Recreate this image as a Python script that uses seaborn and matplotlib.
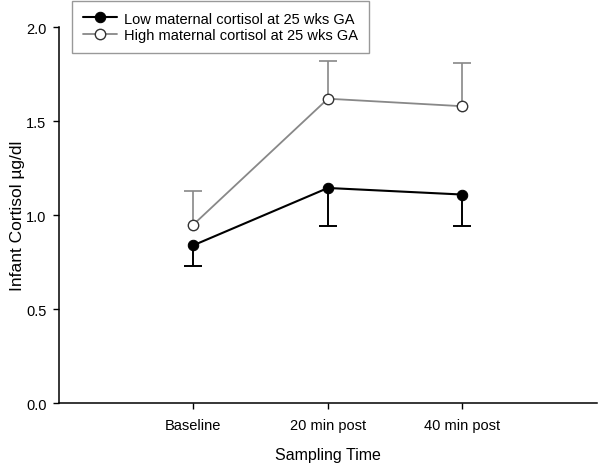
import seaborn as sns
import matplotlib.pyplot as plt
import pandas as pd

times = ["Baseline", "20 min post", "40 min post"]
low_mean = [0.84, 1.145, 1.11]
low_err = [0.11, 0.205, 0.17]
high_mean = [0.95, 1.62, 1.58]
high_err = [0.18, 0.20, 0.23]

sns.set_style("ticks")
plt.rcParams['font.family'] = ['Liberation Sans', 'DejaVu Sans']

pos = [1, 2, 3]
low = pd.DataFrame({"pos": pos, "cortisol": low_mean})
high = pd.DataFrame({"pos": pos, "cortisol": high_mean})

fig = plt.figure(figsize=(6, 4.64), dpi=100)
ax = fig.add_axes([0.098, 0.129, 0.897, 0.810])

# one-sided error bars: low goes down, high goes up
low_end = [m - e for m, e in zip(low_mean, low_err)]
high_end = [m + e for m, e in zip(high_mean, high_err)]
ax.vlines(pos, low_end, low_mean, color="black", lw=1.4, zorder=1)
ax.plot(pos, low_end, ls="none", marker="_", ms=13, mew=1.4, color="black", zorder=1)
ax.vlines(pos, high_mean, high_end, color="#888888", lw=1.2, zorder=1)
ax.plot(pos, high_end, ls="none", marker="_", ms=13, mew=1.2, color="#888888", zorder=1)

sns.lineplot(data=low, x="pos", y="cortisol", ax=ax, color="black", lw=1.5,
             marker="o", ms=7.5, mfc="black", mec="black",
             label="Low maternal cortisol at 25 wks GA", zorder=3)
sns.lineplot(data=high, x="pos", y="cortisol", ax=ax, color="#888888", lw=1.3,
             marker="o", ms=7.5, mfc="white", mec="#333333", mew=1,
             label="High maternal cortisol at 25 wks GA", zorder=3)

ax.set_xlim(0, 4)
ax.set_ylim(0, 2.0)
ax.set_xticks(pos)
ax.set_xticklabels(times)
ax.set_yticks([0, 0.5, 1.0, 1.5, 2.0])
ax.set_yticklabels(["0.0", "0.5", "1.0", "1.5", "2.0"])
ax.tick_params(labelsize=10.5, length=4.3, width=1, color="black", labelcolor="black")
ax.tick_params(axis="y", pad=4.5)
ax.tick_params(axis="x", pad=6.5)
sns.despine(ax=ax)
for s in ["left", "bottom"]:
    ax.spines[s].set_linewidth(1.1)
    ax.spines[s].set_color("black")

ax.set_xlabel("Sampling Time", fontsize=11.5, labelpad=10.5, color="black")
ax.set_ylabel("Infant Cortisol µg/dl", fontsize=12.5, labelpad=1, color="black")

leg = ax.legend(loc="upper left", bbox_to_anchor=(0.024, 1.071), borderaxespad=0,
                fontsize=10.5, frameon=True, fancybox=False, edgecolor="#808080",
                handlelength=2.33, borderpad=0.75, labelspacing=0.2, handletextpad=0.5)
leg.get_frame().set_linewidth(1)
for t in leg.get_texts():
    t.set_color("black")

fig.savefig("out.png", dpi=100)
plt.close()
